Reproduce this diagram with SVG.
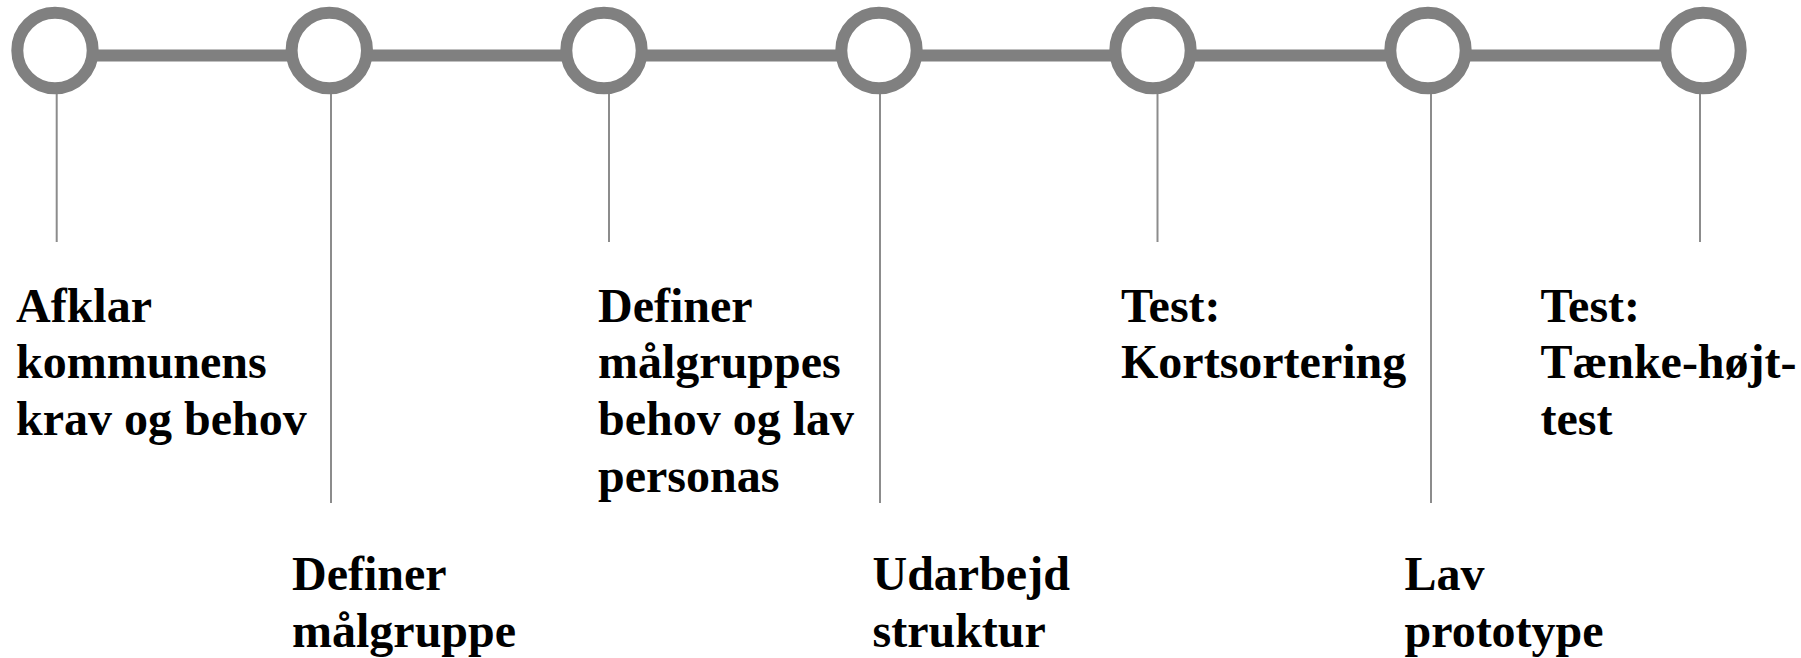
<svg xmlns="http://www.w3.org/2000/svg" width="1801" height="658" viewBox="0 0 1801 658">
  <style>
    .track { stroke: #808080; stroke-width: 12; fill: none; }
    .ring { stroke: #808080; stroke-width: 12; fill: #ffffff; }
    .stem { stroke: #8c8c8c; stroke-width: 2; fill: none; }
    .label { font-family: "Liberation Serif", "Times New Roman", serif; font-weight: bold; font-size: 48px; fill: #000000; }
  </style>
  <rect width="1801" height="658" fill="#ffffff"/>

  <!-- timeline track and label stems -->
  <g id="connectors">
    <line class="track" x1="55" y1="55.5" x2="1703" y2="55.5"/>
    <line class="stem" x1="56.7" y1="94" x2="56.7" y2="242"/>
    <line class="stem" x1="331" y1="94" x2="331" y2="503"/>
    <line class="stem" x1="609" y1="94" x2="609" y2="242"/>
    <line class="stem" x1="880" y1="94" x2="880" y2="503"/>
    <line class="stem" x1="1157.5" y1="94" x2="1157.5" y2="242"/>
    <line class="stem" x1="1431" y1="94" x2="1431" y2="503"/>
    <line class="stem" x1="1700" y1="94" x2="1700" y2="242"/>
  </g>

  <g id="step1">
    <circle class="ring" cx="55" cy="50.5" r="37.7"/>
    <text class="label" x="16" y="321.7">Afklar</text>
    <text class="label" x="16" y="378.3">kommunens</text>
    <text class="label" x="16" y="435">krav og behov</text>
  </g>

  <g id="step2">
    <circle class="ring" cx="329.3" cy="50.5" r="37.7"/>
    <text class="label" x="292" y="590">Definer</text>
    <text class="label" x="292" y="646.5">målgruppe</text>
  </g>

  <g id="step3">
    <circle class="ring" cx="604" cy="50.5" r="37.7"/>
    <text class="label" x="598" y="321.7">Definer</text>
    <text class="label" x="598" y="378.3">målgruppes</text>
    <text class="label" x="598" y="435">behov og lav</text>
    <text class="label" x="598" y="491.7">personas</text>
  </g>

  <g id="step4">
    <circle class="ring" cx="879" cy="50.5" r="37.7"/>
    <text class="label" x="872.5" y="590">Udarbejd</text>
    <text class="label" x="872.5" y="646.5">struktur</text>
  </g>

  <g id="step5">
    <circle class="ring" cx="1153" cy="50.5" r="37.7"/>
    <text class="label" x="1121" y="321.7">Test:</text>
    <text class="label" x="1121" y="378.3">Kortsortering</text>
  </g>

  <g id="step6">
    <circle class="ring" cx="1428" cy="50.5" r="37.7"/>
    <text class="label" x="1404.5" y="590">Lav</text>
    <text class="label" x="1404.5" y="646.5">prototype</text>
  </g>

  <g id="step7">
    <circle class="ring" cx="1703" cy="50.5" r="37.7"/>
    <text class="label" x="1540.5" y="321.7">Test:</text>
    <text class="label" x="1540.5" y="378.3">Tænke-højt-</text>
    <text class="label" x="1540.5" y="435">test</text>
  </g>
</svg>
